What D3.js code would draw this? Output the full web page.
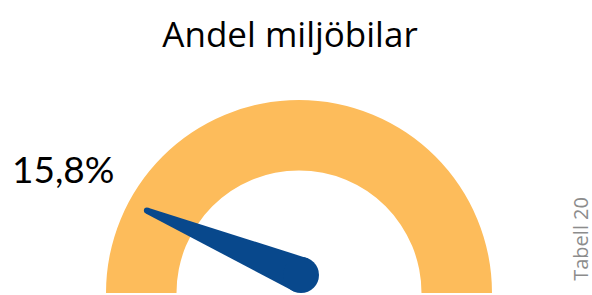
<!DOCTYPE html>
<html>
<head>
<meta charset="utf-8">
<script src="https://cdn.jsdelivr.net/npm/d3@7"></script>
<style>
  html, body { margin: 0; padding: 0; background: #fff; }
  svg { display: block; }
</style>
</head>
<body>
<div id="chart"></div>
<script>
// gauge data
const chartTitle = 'Andel miljöbilar';
const gaugeRange = [0, 100];
const gaugeValue = [15.8];
const valueLabels = ['15,8%'];
const sideNote = ['Tabell 20'];

function renderGauge(containerId) {
    const container = d3.select(`#${containerId}`);
    container.selectAll('*').remove();

    const width = 592;
    const height = 295;
    const cx = 299, cy = 293;
    const outerR = 193, innerR = 122.5;

    const svg = container.append('svg')
        .attr('width', width)
        .attr('height', height);

    svg.append('text')
        .attr('x', 290)
        .attr('y', 47)
        .attr('text-anchor', 'middle')
        .style('font-family', '"Open Sans", sans-serif')
        .style('font-size', '35px')
        .attr('fill', '#000')
        .text(chartTitle);

    // angle scale, d3.arc convention (0 = up, clockwise)
    const angle = d3.scaleLinear()
        .domain(gaugeRange)
        .range([-Math.PI / 2, Math.PI / 2]);

    const g = svg.append('g')
        .attr('transform', `translate(${cx},${cy})`);

    const band = d3.arc()
        .innerRadius(innerR)
        .outerRadius(outerR)
        .startAngle(angle(gaugeRange[0]))
        .endAngle(angle(gaugeRange[1]));

    g.append('path')
        .attr('d', band())
        .attr('fill', '#FDBC5B');

    // needle
    const a = angle(gaugeValue[0]);
    const len = 173;
    const tip = [len * Math.sin(a), -len * Math.cos(a)];
    const hub = [2, -18];
    const hubR = 18, tipR = 3;
    const dx = tip[0] - hub[0], dy = tip[1] - hub[1];
    const d = Math.hypot(dx, dy);
    const px = -dy / d, py = dx / d;
    const needle = d3.path();
    needle.moveTo(hub[0] + px * hubR, hub[1] + py * hubR);
    needle.lineTo(tip[0] + px * tipR, tip[1] + py * tipR);
    needle.lineTo(tip[0] - px * tipR, tip[1] - py * tipR);
    needle.lineTo(hub[0] - px * hubR, hub[1] - py * hubR);
    needle.closePath();

    g.append('path')
        .attr('d', needle.toString())
        .attr('fill', '#08488C');
    g.append('circle')
        .attr('cx', hub[0]).attr('cy', hub[1]).attr('r', hubR)
        .attr('fill', '#08488C');
    g.append('circle')
        .attr('cx', tip[0]).attr('cy', tip[1]).attr('r', tipR)
        .attr('fill', '#08488C');

    svg.append('text')
        .attr('x', 12)
        .attr('y', 183)
        .style('font-family', 'Lato, sans-serif')
        .style('font-size', '37px')
        .attr('fill', '#000')
        .text(valueLabels[0]);

    svg.append('text')
        .attr('transform', 'translate(588,197) rotate(-90)')
        .attr('text-anchor', 'end')
        .style('font-family', '"Open Sans", sans-serif')
        .style('font-size', '20px')
        .attr('fill', '#8c8c8c')
        .text(sideNote[0]);
}

renderGauge('chart');
</script>
</body>
</html>
